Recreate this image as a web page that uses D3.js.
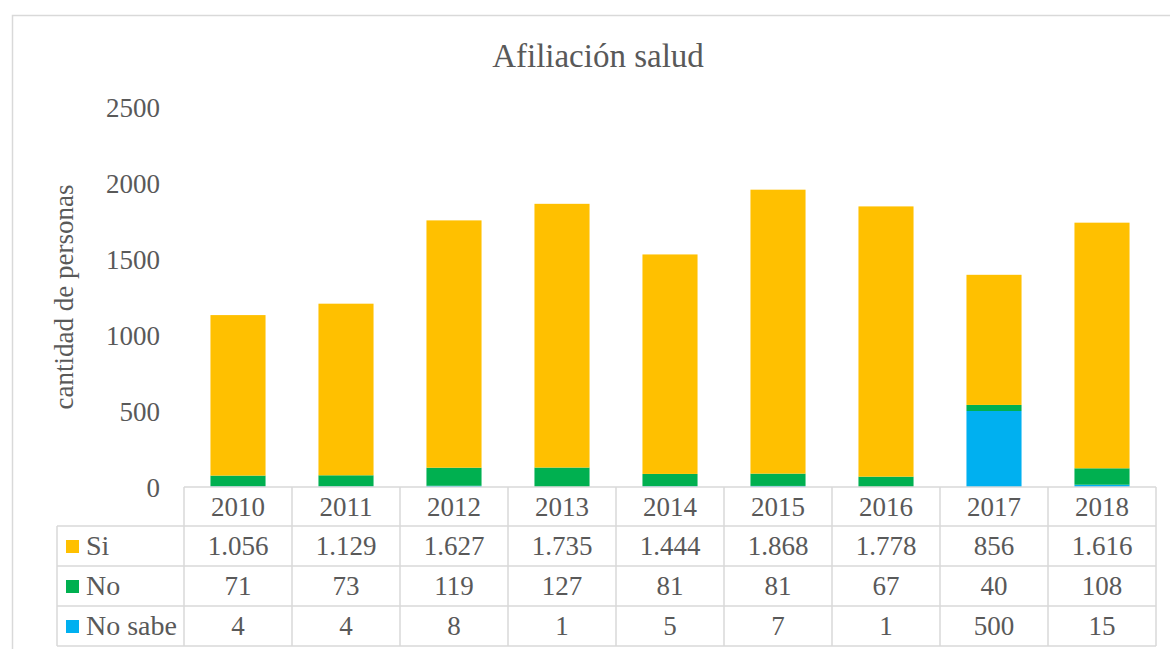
<!DOCTYPE html>
<html>
<head>
<meta charset="utf-8">
<script src="https://cdn.jsdelivr.net/npm/d3@7"></script>
<style>
  body { margin: 0; background: #fff; }
</style>
</head>
<body>
<script>
const years = ["2010", "2011", "2012", "2013", "2014", "2015", "2016", "2017", "2018"];
const siValues = [1056, 1129, 1627, 1735, 1444, 1868, 1778, 856, 1616];
const noValues = [71, 73, 119, 127, 81, 81, 67, 40, 108];
const noSabeValues = [4, 4, 8, 1, 5, 7, 1, 500, 15];
const yTicks = [0, 500, 1000, 1500, 2000, 2500];

const width = 1170, height = 649;
const plotLeft = 184, plotRight = 1156, plotTop = 107, plotBottom = 487;
const rowH = 40, headerH = 39;
const legendLeft = 57;
const textColor = "#595959", gridColor = "#d9d9d9";
const serif = '"Liberation Serif"';
const fontSize = "27px";

const series = [
  { key: "noSabe", name: "No sabe", values: noSabeValues, color: "#00B0F0" },
  { key: "no", name: "No", values: noValues, color: "#00B050" },
  { key: "si", name: "Si", values: siValues, color: "#FFC000" }
];
const tableRows = [series[2], series[1], series[0]];

const fmt = v => v >= 1000 ? d3.format(",")(v).replace(/,/g, ".") : String(v);

const rows = years.map((yr, i) => ({ year: yr, noSabe: noSabeValues[i], no: noValues[i], si: siValues[i] }));
const stacked = d3.stack().keys(series.map(s => s.key))(rows);

const svg = d3.select("body").append("svg").attr("width", width).attr("height", height)
              .style("display", "block");

// outer chart border
svg.append("rect")
   .attr("x", 12.5).attr("y", 15.5)
   .attr("width", 1170).attr("height", 700)
   .attr("fill", "#fff").attr("stroke", gridColor).attr("stroke-width", 1.5);

const x = d3.scaleBand().domain(years).range([plotLeft, plotRight]).paddingInner(0.49).paddingOuter(0.245);
const colX = d3.scaleBand().domain(years).range([plotLeft, plotRight]);
const y = d3.scaleLinear().domain([0, 2500]).range([plotBottom, plotTop]);

// title
svg.append("text")
   .attr("x", 598).attr("y", 67)
   .attr("text-anchor", "middle")
   .attr("fill", textColor)
   .style("font-family", serif)
   .style("font-size", "33px")
   .text("Afiliación salud");

// y axis labels
const yAxis = d3.axisLeft(y).tickValues(yTicks).tickFormat(d3.format("d")).tickSize(0).tickPadding(0);
const gy = svg.append("g").attr("transform", `translate(160,0)`).call(yAxis);
gy.select(".domain").remove();
gy.selectAll("text")
  .attr("fill", textColor)
  .attr("dy", "0.35em")
  .style("font-family", serif)
  .style("font-size", fontSize);

svg.append("text")
   .attr("transform", `translate(73,${(plotTop + plotBottom) / 2}) rotate(-90)`)
   .attr("text-anchor", "middle")
   .attr("fill", textColor)
   .style("font-family", serif)
   .style("font-size", "27px")
   .text("cantidad de personas");

// bars
svg.append("g").selectAll("g")
   .data(stacked)
   .join("g")
   .attr("fill", (d, i) => series[i].color)
   .selectAll("rect")
   .data(d => d)
   .join("rect")
   .attr("x", d => x(d.data.year))
   .attr("width", x.bandwidth())
   .attr("y", d => y(d[1]))
   .attr("height", d => y(d[0]) - y(d[1]));

// data table
const tableTop = plotBottom;
const g = svg.append("g").attr("stroke", gridColor).attr("stroke-width", 1.5).attr("fill", "none");
const rowTop = i => tableTop + headerH + i * rowH;
const tableBottom = rowTop(tableRows.length);

g.append("line").attr("x1", plotLeft).attr("x2", plotRight).attr("y1", tableTop).attr("y2", tableTop);
for (let i = 0; i <= tableRows.length; i++) {
  g.append("line").attr("x1", legendLeft).attr("x2", plotRight).attr("y1", rowTop(i)).attr("y2", rowTop(i));
}
g.append("line").attr("x1", legendLeft).attr("x2", legendLeft).attr("y1", rowTop(0)).attr("y2", tableBottom);
for (let i = 0; i <= years.length; i++) {
  const xx = plotLeft + i * colX.step();
  g.append("line").attr("x1", xx).attr("x2", xx).attr("y1", tableTop).attr("y2", tableBottom);
}

// header years
svg.append("g").selectAll("text")
   .data(years)
   .join("text")
   .attr("x", d => colX(d) + colX.bandwidth() / 2)
   .attr("y", tableTop + headerH / 2 + 9)
   .attr("text-anchor", "middle")
   .attr("fill", textColor)
   .style("font-family", serif)
   .style("font-size", fontSize)
   .text(d => d);

// rows
tableRows.forEach((s, r) => {
  const cy = rowTop(r) + rowH / 2;
  svg.append("rect")
     .attr("x", 66).attr("y", cy - 6)
     .attr("width", 13).attr("height", 13)
     .attr("fill", s.color);
  svg.append("text")
     .attr("x", 86).attr("y", cy + 9)
     .attr("fill", textColor)
     .style("font-family", serif)
     .style("font-size", "28px")
     .text(s.name);
  svg.append("g").selectAll("text")
     .data(s.values)
     .join("text")
     .attr("x", (d, i) => colX(years[i]) + colX.bandwidth() / 2)
     .attr("y", cy + 9)
     .attr("text-anchor", "middle")
     .attr("fill", textColor)
     .style("font-family", serif)
     .style("font-size", fontSize)
     .text(d => fmt(d));
});
</script>
</body>
</html>
